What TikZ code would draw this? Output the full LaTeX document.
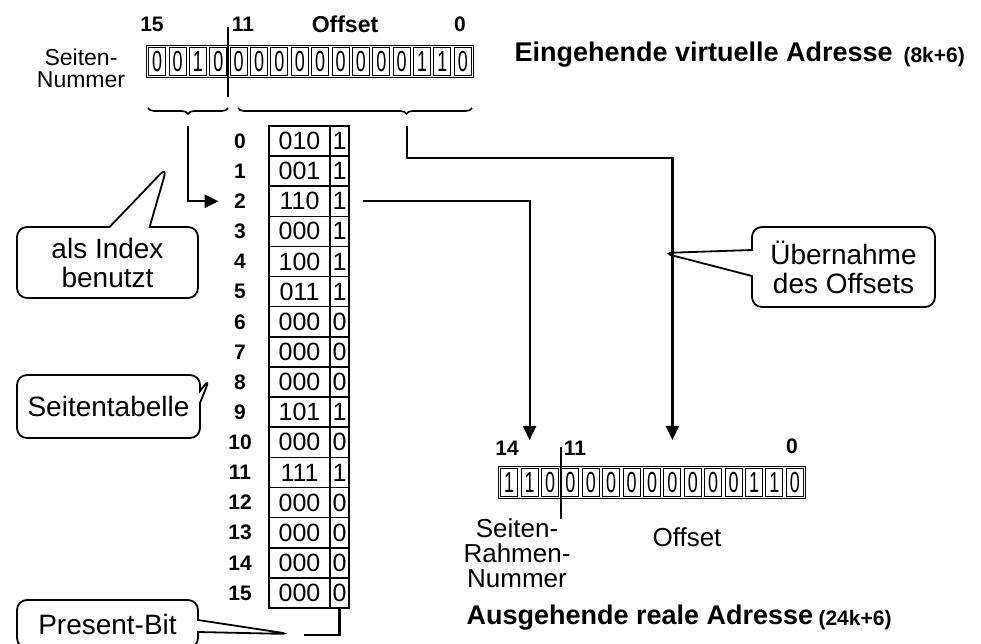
\documentclass[tikz,border=0pt]{standalone}
\usepackage{fontspec}
\setmainfont{Liberation Sans}
\newfontfamily\bitfont[FakeStretch=0.62]{Liberation Sans}
\usetikzlibrary{arrows.meta,positioning,calc,fit,shapes.callouts,decorations.pathreplacing}

\begin{document}
\begin{tikzpicture}[x=1pt,y=-1pt,
  bitcell/.style={draw,line width=1.1pt,minimum width=17pt,minimum height=28pt,inner sep=0pt,
    font=\bitfont\fontsize{29}{29}\selectfont},
  bitpos/.style={font=\bfseries\fontsize{21}{21}\selectfont},
  word/.style={font=\fontsize{26}{25}\selectfont,align=center},
  head/.style={font=\bfseries\fontsize{27}{27}\selectfont,anchor=west},
  sizeinfo/.style={font=\bfseries\fontsize{21}{21}\selectfont,anchor=west},
  tcell/.style={draw,line width=1.5pt,minimum height=30.13pt,inner sep=0pt,
    font=\fontsize{25}{25}\selectfont},
  idx/.style={font=\bfseries\fontsize{21}{21}\selectfont},
  note/.style={rectangle callout,draw,line width=1.8pt,rounded corners=10pt,align=center,
    inner sep=0pt,font=\fontsize{28}{29}\selectfont},
  conn/.style={line width=2.2pt},
  arr/.style={conn,-{Triangle[length=14pt,width=13pt]}},
  brc/.style={decorate,decoration={brace,mirror,amplitude=6pt},line width=1.6pt}]
 \useasboundingbox (0,0) rectangle (981,644);
 \clip (0,0) rectangle (981,644);
 % incoming virtual address
 \foreach \b [count=\i from 0] in {0,0,1,0,0,0,0,0,0,0,0,0,0,1,1,0}
   \node[bitcell] (v\i) at ({147+20.375*(\i+0.5)},61.5) {\b};
 \node[draw,line width=1.6pt,inner sep=1.5pt,fit=(v0)(v15)] (vreg) {};
 \draw[line width=2pt] (228,27) -- (228,97);
 \node[bitpos] (v15lbl) at (152,24) {15};
 \node[bitpos] (v11lbl) at (243,24) {11};
 \node[bitpos,font=\bfseries\fontsize{23}{23}\selectfont] (voff) at (345,24) {Offset};
 \node[bitpos] (v0lbl) at (460,24) {0};
 \node[word,font=\fontsize{23}{22}\selectfont] (vnum) at (81,68) {Seiten-\\Nummer};
 \node[head] (vhead) at (511,55) {Eingehende virtuelle Adresse};
 \node[sizeinfo] (vsize) at (900,57) {(8k+6)};
 \draw[brc] (148,108) -- (228,108);
 \draw[brc,decoration={aspect=0.72}] (238,108) -- (472,108);
 \coordinate (bl) at (188,126);
 \coordinate (br) at (407,126);
 % page table
 \foreach \fr/\pb [count=\i from 0] in {010/1,001/1,110/1,000/1,100/1,011/1,000/0,000/0,
     000/0,101/1,000/0,111/1,000/0,000/0,000/0,000/0} {
   \node[tcell,minimum width=61pt] (f\i) at (299.5,{141+30.13*\i}) {\fr};
   \node[tcell,minimum width=19pt] (p\i) at (339.5,{141+30.13*\i}) {\pb};
   \node[idx] (i\i) at (240,{141+30.13*\i}) {\i};
 }
 % outgoing real address
 \foreach \b [count=\i from 0] in {1,1,0,0,0,0,0,0,0,0,0,0,1,1,0}
   \node[bitcell] (r\i) at ({499+20.4*(\i+0.5)},482.5) {\b};
 \node[draw,line width=1.6pt,inner sep=1.5pt,fit=(r0)(r14)] (rreg) {};
 \draw[line width=2pt] (561,447) -- (561,519);
 \node[bitpos] (r14lbl) at (507,448) {14};
 \node[bitpos] (r11lbl) at (575,448) {11};
 \node[bitpos] (r0lbl) at (792,446) {0};
 \node[word] (rnum) at (517,553) {Seiten-\\Rahmen-\\Nummer};
 \node[word] (roff) at (687,537) {Offset};
 \node[head] (rhead) at (463,618) {Ausgehende reale Adresse};
 \node[sizeinfo] (rsize) at (815,620) {(24k+6)};
 % callouts
 \node[note,minimum width=181pt,minimum height=71pt,callout pointer width=40pt,
   callout absolute pointer={(167,167)}] (idxnote) at (107.5,262.5) {als Index\\benutzt};
 \node[note,minimum width=183pt,minimum height=63pt,callout pointer width=12pt,
   callout absolute pointer={(210,378)}] (tabnote) at (108.5,406.5) {Seitentabelle};
 \node[note,minimum width=183pt,minimum height=80pt,callout pointer width=26pt,
   callout absolute pointer={(663,253)}] (offnote) at (843.5,267) {Übernahme\\des Offsets};
 \node[note,minimum width=181pt,minimum height=48pt,callout pointer width=12pt,
   callout absolute pointer={(290,634)}] (pb) at (107.5,624) {Present-Bit};
 % connectors
 \draw[arr,shorten >=12pt] (bl) |- (i2.west);
 \draw[arr] (br) -- ++(0,32) -| ([yshift=28pt]r8.north);
 \draw[arr] ([xshift=13pt]p2.east) -| ([yshift=28pt]r1.north);
 \draw[conn] (p15.south) |- (pb.pointer);
\end{tikzpicture}
\end{document}
